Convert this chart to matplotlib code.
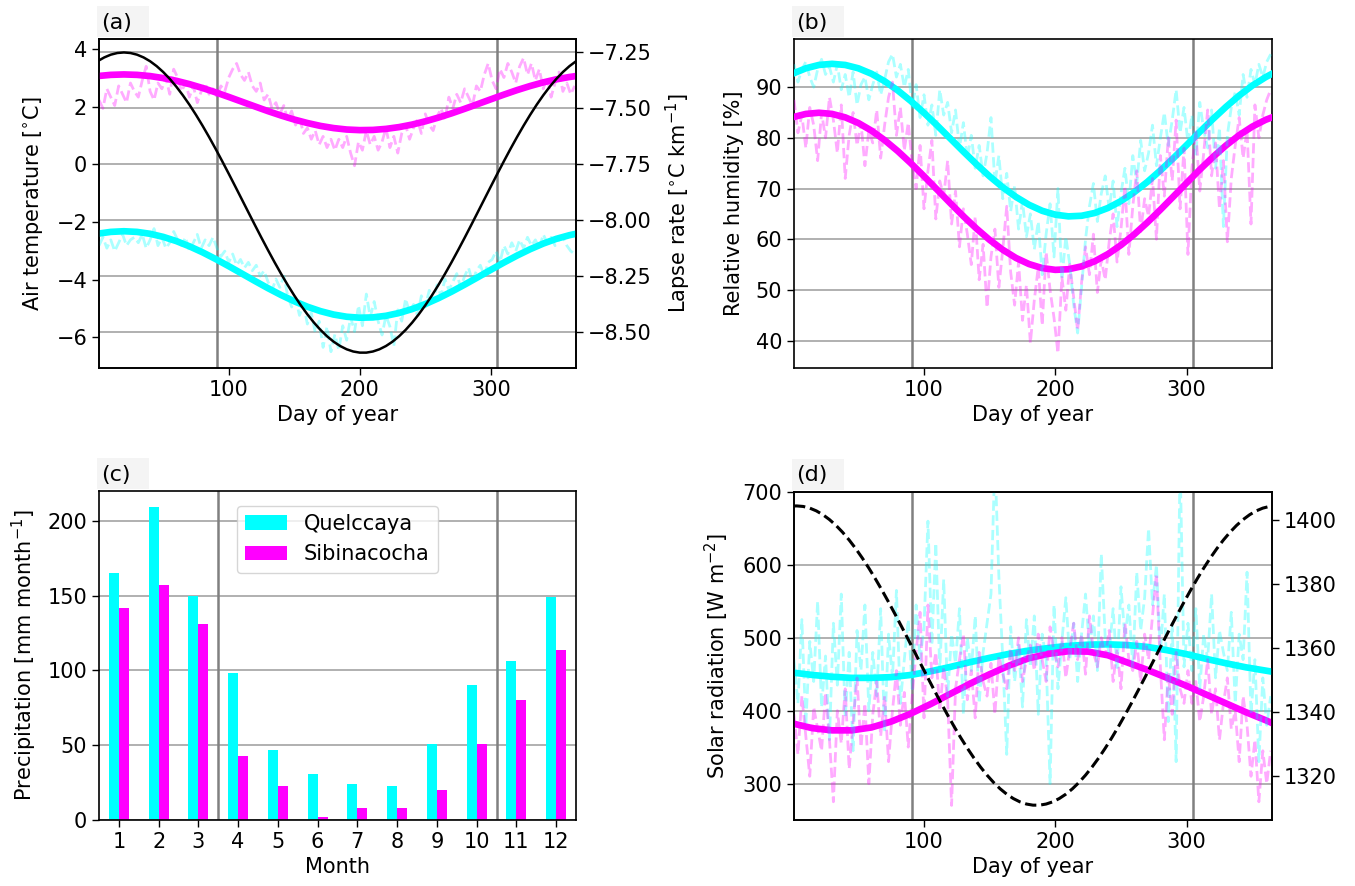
import matplotlib
matplotlib.use('Agg')
import matplotlib.pyplot as plt
from matplotlib.patches import Rectangle
from matplotlib.transforms import blended_transform_factory

plt.rcParams['font.family'] = ['DejaVu Sans']
plt.rcParams['font.size'] = 15
plt.rcParams['axes.linewidth'] = 1.2
plt.rcParams['xtick.major.width'] = 1.0
plt.rcParams['ytick.major.width'] = 1.0
plt.rcParams['xtick.major.size'] = 5
plt.rcParams['ytick.major.size'] = 5

# ---------------- data ----------------
# smooth seasonal fits (10-day spacing)
fit_days = [1, 10, 20, 30, 40, 50, 60, 70, 80, 90, 100, 110, 120, 130, 140, 150, 160, 170, 180,
            190, 200, 210, 220, 230, 240, 250, 260, 270, 280, 290, 300, 310, 320, 330, 340, 350,
            360, 365]
# thin black curves (5-day spacing)
lapse_days = [1] + list(range(5, 366, 5))
toa_days = [1] + list(range(3, 364, 5)) + [365]
# daily observations (every 3rd day)
daily_days = list(range(1, 366, 3))

# (a) air temperature and lapse rate
temp_fit_q = [-2.401, -2.344, -2.321, -2.344, -2.410, -2.517, -2.663, -2.844, -3.052, -3.285,
              -3.533, -3.790, -4.047, -4.298, -4.535, -4.750, -4.939, -5.093, -5.211, -5.287,
              -5.321, -5.310, -5.254, -5.157, -5.020, -4.848, -4.645, -4.418, -4.173, -3.919,
              -3.660, -3.407, -3.166, -2.945, -2.749, -2.585, -2.458, -2.410]
temp_fit_s = [3.066, 3.103, 3.118, 3.103, 3.061, 2.991, 2.897, 2.782, 2.647, 2.497, 2.337, 2.172,
              2.007, 1.844, 1.692, 1.553, 1.433, 1.332, 1.257, 1.207, 1.186, 1.193, 1.229, 1.291,
              1.379, 1.491, 1.621, 1.767, 1.925, 2.089, 2.255, 2.418, 2.574, 2.716, 2.842, 2.948,
              3.029, 3.061]
lapse_rate = [-7.2865, -7.2732, -7.2609, -7.2535, -7.2510, -7.2535, -7.2609, -7.2732, -7.2903,
              -7.3121, -7.3384, -7.3690, -7.4037, -7.4422, -7.4842, -7.5295, -7.5777, -7.6284,
              -7.6813, -7.7360, -7.7921, -7.8491, -7.9066, -7.9642, -8.0215, -8.0781, -8.1335,
              -8.1874, -8.2392, -8.2887, -8.3355, -8.3792, -8.4195, -8.4562, -8.4889, -8.5173,
              -8.5414, -8.5608, -8.5755, -8.5854, -8.5904, -8.5904, -8.5854, -8.5755, -8.5608,
              -8.5414, -8.5173, -8.4889, -8.4562, -8.4195, -8.3792, -8.3355, -8.2887, -8.2392,
              -8.1874, -8.1335, -8.0781, -8.0215, -7.9642, -7.9066, -7.8491, -7.7921, -7.7360,
              -7.6813, -7.6284, -7.5777, -7.5295, -7.4842, -7.4422, -7.4037, -7.3690, -7.3384,
              -7.3121, -7.2903]
temp_daily_q = [-2.82, -2.53, -2.91, -2.62, -3.01, -2.72, -2.43, -2.82, -2.62, -2.53,
                -2.72, -2.43, -2.91, -2.62, -2.23, -2.82, -2.53, -2.91, -2.72, -2.33,
                -2.62, -2.82, -2.53, -3.01, -2.72, -2.43, -2.91, -2.62, -2.82, -2.53,
                -2.91, -3.20, -3.01, -3.40, -3.11, -3.50, -3.30, -3.59, -3.40, -3.69,
                -3.50, -3.88, -3.69, -4.08, -4.37, -3.98, -4.27, -3.88, -4.56, -4.95,
                -4.66, -5.24, -4.86, -5.54, -5.15, -5.83, -5.44, -6.35, -5.63, -6.50,
                -5.90, -6.45, -5.60, -6.10, -5.30, -5.80, -4.90, -5.60, -4.50, -5.30,
                -4.76, -5.44, -5.92, -5.24, -5.63, -6.30, -5.05, -5.44, -4.66, -5.15,
                -4.86, -5.24, -4.56, -4.95, -4.37, -4.76, -4.18, -4.56, -3.98, -4.37,
                -4.08, -3.79, -4.27, -3.88, -3.59, -4.08, -3.69, -3.50, -3.88, -3.40,
                -3.30, -3.01, -3.40, -2.82, -3.11, -2.72, -3.01, -2.62, -2.91, -2.53,
                -2.82, -2.62, -2.91, -2.43, -2.72, -2.53, -2.82, -2.62, -2.53, -2.82,
                -3.01, -3.11]
temp_daily_s = [2.23, 1.94, 2.62, 2.33, 2.04, 2.72, 2.43, 2.14, 2.82, 2.53,
                2.33, 2.91, 3.40, 2.53, 2.23, 2.82, 2.62, 3.01, 2.43, 3.30,
                3.01, 2.53, 2.82, 2.33, 2.72, 2.14, 2.53, 2.82, 2.43, 2.62,
                2.33, 2.72, 2.53, 3.01, 3.30, 3.50, 3.11, 2.91, 3.20, 2.72,
                2.53, 2.82, 2.23, 2.43, 1.94, 2.14, 1.75, 2.04, 1.55, 1.85,
                1.36, 1.65, 1.07, 1.26, 0.87, 1.17, 0.68, 0.97, 0.58, 0.87,
                0.49, 0.87, 0.58, 0.97, 0.39, -0.05, 0.78, 0.49, 1.17, 0.68,
                0.97, 0.49, 0.78, 1.26, 0.58, 0.97, 0.39, 1.07, 1.36, 0.87,
                1.26, 1.55, 1.07, 1.75, 1.36, 1.17, 1.65, 1.94, 1.55, 2.33,
                1.94, 2.43, 2.14, 2.62, 2.33, 2.04, 2.72, 2.53, 3.11, 3.50,
                2.91, 2.62, 3.30, 3.01, 3.50, 3.20, 2.82, 3.40, 3.69, 3.11,
                3.50, 2.91, 3.30, 2.62, 3.01, 2.33, 2.82, 3.20, 2.53, 2.82,
                2.43, 2.72]

# (b) relative humidity
rh_fit_q = [92.76, 93.72, 94.38, 94.60, 94.38, 93.72, 92.64, 91.17, 89.36, 87.26, 84.93, 82.45,
            79.87, 77.29, 74.78, 72.40, 70.24, 68.35, 66.79, 65.61, 64.85, 64.51, 64.63, 65.18,
            66.16, 67.53, 69.26, 71.29, 73.57, 76.02, 78.58, 81.17, 83.71, 86.12, 88.34, 90.31,
            91.95, 92.64]
rh_fit_s = [84.13, 84.72, 84.95, 84.72, 84.04, 82.93, 81.42, 79.55, 77.39, 74.99, 72.43, 69.78,
            67.12, 64.53, 62.09, 59.86, 57.92, 56.31, 55.10, 54.31, 53.96, 54.08, 54.65, 55.65,
            57.07, 58.85, 60.94, 63.29, 65.82, 68.45, 71.11, 73.73, 76.22, 78.51, 80.53, 82.22,
            83.54, 84.04]
rh_daily_q = [94.5, 91.0, 93.5, 95.0, 92.0, 90.0, 93.5, 95.5, 92.5, 94.0,
              91.0, 94.5, 89.5, 92.5, 88.0, 93.0, 86.5, 90.5, 92.0, 87.5,
              90.5, 93.0, 88.5, 91.5, 95.0, 96.5, 92.0, 94.5, 90.0, 93.5,
              86.0, 90.5, 84.0, 88.5, 82.5, 86.5, 80.5, 89.5, 84.5, 87.0,
              81.0, 85.5, 78.0, 83.0, 76.0, 80.5, 74.0, 78.5, 72.5, 77.0,
              84.0, 71.0, 76.5, 68.0, 73.0, 65.5, 70.5, 62.0, 67.5, 60.5,
              65.0, 58.0, 63.5, 53.0, 61.0, 67.0, 56.5, 70.0, 52.0, 60.5,
              55.0, 47.0, 41.5, 50.5, 60.0, 66.5, 71.0, 63.5, 69.0, 72.5,
              66.0, 71.5, 62.5, 69.0, 74.0, 67.0, 76.5, 71.0, 79.5, 73.5,
              77.0, 82.5, 74.5, 80.0, 85.0, 78.5, 83.5, 89.5, 81.0, 86.0,
              79.0, 84.5, 76.5, 87.0, 81.5, 78.0, 85.5, 74.0, 82.0, 62.5,
              80.5, 86.0, 89.0, 84.5, 92.5, 88.0, 93.5, 90.5, 94.5, 92.0,
              95.0, 96.5]
rh_daily_s = [87.5, 81.0, 84.5, 78.0, 86.0, 82.5, 75.5, 85.0, 80.0, 88.0,
              83.5, 77.0, 86.5, 72.0, 80.5, 85.0, 78.5, 83.0, 74.5, 81.5,
              79.0, 85.5, 76.0, 82.5, 88.0, 91.0, 80.5, 86.0, 77.5, 83.0,
              75.0, 70.0, 78.5, 66.0, 73.5, 79.5, 64.0, 71.5, 68.5, 75.5,
              63.0, 69.5, 58.5, 66.0, 61.0, 55.0, 64.5, 52.0, 59.0, 46.5,
              56.5, 62.0, 50.5, 58.0, 66.5, 53.5, 47.0, 55.5, 44.0, 51.0,
              39.5, 48.0, 54.5, 43.0, 57.5, 50.0, 44.5, 37.5, 52.5, 46.0,
              55.0, 48.5, 42.0, 51.5, 58.5, 53.0, 61.0, 49.5, 56.0, 52.0,
              59.5, 65.0, 55.5, 62.0, 70.5, 57.0, 66.5, 73.5, 61.5, 68.0,
              64.5, 72.0, 60.0, 76.5, 68.5, 80.0, 71.5, 83.5, 66.0, 78.0,
              57.0, 74.0, 81.5, 69.5, 77.0, 85.5, 72.5, 79.0, 66.0, 75.5,
              59.5, 72.0, 78.5, 84.0, 76.0, 81.5, 63.0, 86.5, 80.0, 84.5,
              87.5, 89.5]

# (c) monthly precipitation
months = [1, 2, 3, 4, 5, 6, 7, 8, 9, 10, 11, 12]
precip_q = [165, 209, 150, 98, 47, 31, 24, 23, 51, 90, 106, 149]
precip_s = [142, 157, 131, 43, 23, 2, 8, 8, 20, 51, 80, 114]

# (d) solar radiation
sw_fit_days = [1, 15, 30, 45, 60, 75, 90, 105, 120, 135, 150, 165, 180, 195,
               210, 225, 240, 255, 270, 285, 300, 315, 330, 345, 360, 365]
sw_fit_q = [452, 449, 446.5, 445, 445, 446, 449, 454, 460, 466.5, 472.5, 478, 482.5, 486,
            489, 490.5, 491, 490, 487.5, 483, 477.5, 471, 465, 459.5, 455, 453.5]
sw_fit_s = [382, 376, 373, 373, 377, 385, 396, 409, 423, 437, 450, 462, 472, 478,
            481.5, 481, 476, 466, 456, 445, 434, 422, 410, 398, 387, 383]
toa = [1404.47,
       1404.50, 1404.33, 1403.81, 1402.95, 1401.75, 1400.23, 1398.40, 1396.26, 1393.84, 1391.15,
       1388.21, 1385.05, 1381.68, 1378.14, 1374.44, 1370.62, 1366.71, 1362.73, 1358.71, 1354.68,
       1350.68, 1346.73, 1342.86, 1339.10, 1335.47, 1332.01, 1328.75, 1325.69, 1322.88, 1320.32,
       1318.04, 1316.05, 1314.37, 1313.01, 1311.98, 1311.29, 1310.94,
       1310.94, 1311.29, 1311.98, 1313.01, 1314.37, 1316.05, 1318.04, 1320.32, 1322.88, 1325.69,
       1328.75, 1332.01, 1335.47, 1339.10, 1342.86, 1346.73, 1350.68, 1354.68, 1358.71, 1362.73,
       1366.71, 1370.62, 1374.44, 1378.14, 1381.68, 1385.05, 1388.21, 1391.15, 1393.84, 1396.26,
       1398.40, 1400.23, 1401.75, 1402.95, 1403.81, 1404.33,
       1404.44]
sw_daily_q = [470, 410, 525, 380, 495, 440, 550, 405, 475, 360,
              520, 435, 560, 390, 480, 345, 510, 455, 545, 400,
              480, 420, 540, 370, 505, 445, 565, 410, 470, 525,
              430, 545, 470, 515, 660, 490, 630, 455, 580, 420,
              505, 465, 540, 395, 500, 455, 530, 410, 480, 520,
              560, 745, 585, 470, 340, 515, 440, 490, 405, 525,
              460, 530, 395, 505, 470, 300, 545, 430, 495, 555,
              470, 520, 440, 505, 560, 485, 530, 455, 615, 500,
              480, 540, 455, 570, 500, 545, 460, 590, 510, 555,
              650, 545, 600, 480, 560, 385, 520, 330, 745, 460,
              520, 455, 540, 430, 505, 470, 560, 445, 510, 480,
              455, 535, 410, 505, 470, 590, 395, 470, 330, 445,
              380, 420]
sw_daily_s = [395, 340, 420, 365, 310, 405, 375, 345, 425, 360,
              275, 400, 355, 430, 320, 385, 445, 350, 410, 300,
              395, 440, 365, 420, 330, 400, 455, 380, 425, 350,
              420, 480, 535, 390, 545, 445, 480, 400, 460, 415,
              270, 430, 470, 505, 415, 455, 390, 480, 440, 420,
              465, 395, 475, 450, 430, 485, 455, 500, 440, 470,
              490, 455, 505, 470, 440, 515, 480, 460, 500, 445,
              485, 520, 470, 505, 450, 530, 480, 460, 500, 475,
              510, 440, 485, 430, 520, 470, 455, 495, 440, 505,
              470, 530, 588, 460, 360, 450, 395, 480, 430, 410,
              455, 410, 440, 385, 420, 470, 395, 430, 360, 410,
              445, 375, 400, 330, 420, 380, 310, 360, 275, 345,
              300, 345]

season_days = [91, 305]
season_months = [3.5, 10.5]
station_names = ['Quelccaya', 'Sibinacocha']

# ---------------- style ----------------
CQ = '#00ffff'
CS = '#ff00ff'
FIT_LW = 4.8
DAILY_LW = 2.0
DAILY_ALPHA = 0.33
GRID_COLOR = '#b0b0b0'
GRID_LW = 1.4
VLINE_KW = dict(color='#808080', linewidth=1.8)

W, H = 1355, 886
fig = plt.figure(figsize=(W / 100, H / 100), dpi=100)


def pos(left, top, right, bottom):
    return [left / W, 1 - bottom / H, (right - left) / W, (bottom - top) / H]


ax_a = fig.add_axes(pos(99, 39, 576, 368))
ax_b = fig.add_axes(pos(794, 39, 1272, 368))
ax_c = fig.add_axes(pos(99, 491, 576, 820))
ax_d = fig.add_axes(pos(794, 492, 1272, 820))


def panel_label(left, top, txt):
    # light grey box above the axes, pixel coordinates from the top-left corner
    x0, y0, w, h = left - 2, top - 33, 52, 31
    fig.patches.append(Rectangle((x0 / W, 1 - (y0 + h) / H), w / W, h / H,
                                 transform=fig.transFigure, facecolor='#f4f4f4',
                                 edgecolor='none', zorder=0))
    fig.text((x0 + 4) / W, 1 - (y0 + h / 2 + 1) / H, txt, fontsize=16,
             ha='left', va='center')


def day_axis(ax, grid=True):
    ax.set_xlim(1, 365)
    ax.set_xticks([100, 200, 300])
    ax.set_xlabel('Day of year', labelpad=4)
    ax.grid(False)
    if grid:
        ax.yaxis.grid(True, color=GRID_COLOR, linewidth=GRID_LW)
    for d in season_days:
        ax.axvline(d, **VLINE_KW, zorder=2.5)


# (a)
day_axis(ax_a, grid=False)
ax_a.plot(fit_days, temp_fit_s, color=CS, lw=FIT_LW, zorder=3)
ax_a.plot(fit_days, temp_fit_q, color=CQ, lw=FIT_LW, zorder=3)
ax_a.plot(daily_days, temp_daily_s, color=CS, lw=DAILY_LW, ls='--', alpha=DAILY_ALPHA, zorder=4)
ax_a.plot(daily_days, temp_daily_q, color=CQ, lw=DAILY_LW, ls='--', alpha=DAILY_ALPHA, zorder=4)
ax_a.set_ylim(-7.065, 4.347)
ax_a.set_yticks([-6, -4, -2, 0, 2, 4])
ax_a.set_ylabel('Air temperature [$^{\\circ}$C]', labelpad=8)
ax_a2 = ax_a.twinx()
ax_a2.grid(False)
ax_a2.plot(lapse_days, lapse_rate, color='black', lw=1.8)
ax_a2.set_ylim(-8.659, -7.191)
lapse_ticks = [-8.5, -8.25, -8.0, -7.75, -7.5, -7.25]
ax_a2.set_yticks(lapse_ticks)
ax_a2.set_ylabel('Lapse rate [$^{\\circ}$C km$^{-1}$]', labelpad=9)
# grid follows the lapse-rate axis but sits beneath the temperature curves
ax_a.hlines(lapse_ticks, 0, 1,
            transform=blended_transform_factory(ax_a.transAxes, ax_a2.transData),
            colors=GRID_COLOR, linewidth=GRID_LW, zorder=0.8)
panel_label(99, 39, '(a)')

# (b)
day_axis(ax_b)
ax_b.plot(fit_days, rh_fit_q, color=CQ, lw=FIT_LW, zorder=3)
ax_b.plot(fit_days, rh_fit_s, color=CS, lw=FIT_LW, zorder=3)
ax_b.plot(daily_days, rh_daily_q, color=CQ, lw=DAILY_LW, ls='--', alpha=DAILY_ALPHA, zorder=4)
ax_b.plot(daily_days, rh_daily_s, color=CS, lw=DAILY_LW, ls='--', alpha=DAILY_ALPHA, zorder=4)
ax_b.set_ylim(34.6, 99.5)
ax_b.set_yticks([40, 50, 60, 70, 80, 90])
ax_b.set_ylabel('Relative humidity [%]', labelpad=8)
panel_label(794, 39, '(b)')

# (c)
bw = 0.25
ax_c.set_axisbelow(True)
ax_c.bar([m - bw / 2 for m in months], precip_q, width=bw, color=CQ, label=station_names[0])
ax_c.bar([m + bw / 2 for m in months], precip_s, width=bw, color=CS, label=station_names[1])
for m in season_months:
    ax_c.axvline(m, **VLINE_KW)
ax_c.yaxis.grid(True, color=GRID_COLOR, linewidth=GRID_LW)
ax_c.set_xlim(0.5, 12.5)
ax_c.set_ylim(0, 220)
ax_c.set_xticks(months)
ax_c.set_yticks([0, 50, 100, 150, 200])
ax_c.set_xlabel('Month', labelpad=4)
ax_c.set_ylabel('Precipitation [mm month$^{-1}$]', labelpad=6)
ax_c.legend(loc='upper center', fontsize=15, borderaxespad=0.7)
panel_label(99, 491, '(c)')

# (d)
day_axis(ax_d)
ax_d.plot(sw_fit_days, sw_fit_q, color=CQ, lw=FIT_LW, zorder=3)
ax_d.plot(sw_fit_days, sw_fit_s, color=CS, lw=FIT_LW, zorder=3)
ax_d.plot(daily_days, sw_daily_q, color=CQ, lw=DAILY_LW, ls='--', alpha=DAILY_ALPHA, zorder=4)
ax_d.plot(daily_days, sw_daily_s, color=CS, lw=DAILY_LW, ls='--', alpha=DAILY_ALPHA, zorder=4)
ax_d.set_ylim(250, 700)
ax_d.set_yticks([300, 400, 500, 600, 700])
ax_d.set_ylabel('Solar radiation [W m$^{-2}$]', labelpad=8)
ax_d2 = ax_d.twinx()
ax_d2.grid(False)
ax_d2.plot(toa_days, toa, color='black', lw=2.2, ls='--')
ax_d2.set_ylim(1306.3, 1408.85)
ax_d2.set_yticks([1320, 1340, 1360, 1380, 1400])
panel_label(794, 492, '(d)')

fig.savefig('out.png', dpi=100)
